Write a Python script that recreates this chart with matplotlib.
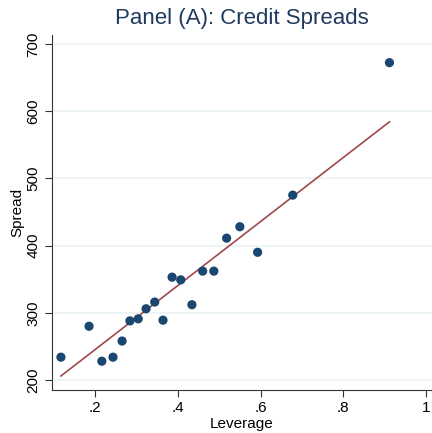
import matplotlib.pyplot as plt
import numpy as np

plt.rcParams['font.family'] = ['Liberation Sans', 'DejaVu Sans']

# leverage / spread pairs
leverage = np.array([0.117, 0.185, 0.216, 0.243, 0.265, 0.284, 0.304, 0.323, 0.344, 0.364,
                     0.386, 0.407, 0.434, 0.460, 0.487, 0.518, 0.550, 0.593, 0.678, 0.912])
spread = np.array([234, 280, 228, 234, 258, 288, 291, 306, 316, 289,
                   353, 349, 312, 362, 362, 411, 428, 390, 475, 672])

# fitted line as drawn in the panel (end points)
fit_x = [0.117, 0.912]
fit_y = [206, 584]

x_ticks = [0.2, 0.4, 0.6, 0.8, 1.0]
x_labels = ['.2', '.4', '.6', '.8', '1']
y_ticks = [200, 300, 400, 500, 600, 700]

navy = '#1a476f'
maroon = '#a0484c'

fig = plt.figure(figsize=(4.32, 4.33), dpi=100)
ax = fig.add_axes([0.120, 0.099, 0.88, 0.820])

for yt in y_ticks:
    ax.axhline(yt, color='#eaf2f3', lw=1.2, zorder=0)

ax.plot(fit_x, fit_y, color=maroon, lw=1.2, zorder=2)
ax.scatter(leverage, spread, s=44, color=navy, edgecolors='none', zorder=3)

ax.set_xlim(0.095, 1.015)
ax.set_ylim(185, 713)
ax.set_xticks(x_ticks)
ax.set_xticklabels(x_labels)
ax.set_yticks(y_ticks)
ax.set_yticklabels([str(v) for v in y_ticks], rotation=90, va='center')

ax.spines['top'].set_visible(False)
ax.spines['right'].set_visible(False)
ax.spines['left'].set_color('#333333')
ax.spines['bottom'].set_color('#333333')
ax.tick_params(axis='both', labelsize=11, length=5, color='#333333', pad=3)

ax.set_xlabel('Leverage', fontsize=11, labelpad=1)
ax.set_ylabel('Spread', fontsize=11, labelpad=2)
ax.set_title('Panel (A): Credit Spreads', fontsize=16, color='#1e3a5f', pad=8)

fig.savefig('out.png', dpi=100)
